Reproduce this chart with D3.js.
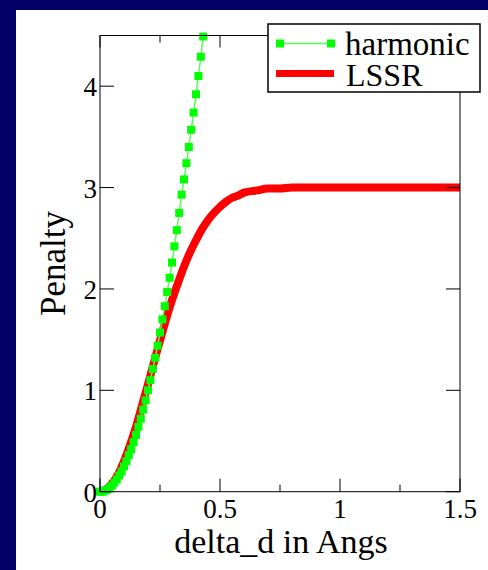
<!DOCTYPE html>
<html><head><meta charset="utf-8">
<script src="https://cdn.jsdelivr.net/npm/d3@7"></script>
<style>html,body{margin:0;padding:0;background:#000066;}svg{display:block;}</style>
</head><body>
<svg id="c" width="488" height="570"></svg>
<script>
// Data
const harmonicX = [0,0.01,0.02,0.03,0.04,0.05,0.06,0.07,0.08,0.09,0.10,0.11,0.12,0.13,0.14,0.15,0.16,0.17,0.18,0.19,0.20,0.21,0.22,0.23,0.24,0.25,0.26,0.27,0.28,0.29,0.30,0.31,0.32,0.33,0.34,0.35,0.36,0.37,0.38,0.39,0.40,0.41,0.42,0.43];
const harmonicY = [0,0.00,0.01,0.02,0.04,0.06,0.09,0.12,0.16,0.20,0.25,0.30,0.36,0.42,0.49,0.56,0.64,0.72,0.81,0.90,1.00,1.10,1.21,1.32,1.44,1.57,1.70,1.83,1.97,2.11,2.26,2.42,2.58,2.75,2.93,3.08,3.24,3.40,3.57,3.74,3.92,4.10,4.29,4.49];
const lssrX = [0,0.025,0.05,0.075,0.1,0.125,0.15,0.175,0.2,0.225,0.25,0.275,0.3,0.325,0.35,0.375,0.4,0.425,0.45,0.475,0.5,0.525,0.55,0.575,0.6,0.65,0.7,0.75,0.8,0.9,1.0,1.25,1.5];
const lssrY = [0,0.02,0.08,0.17,0.30,0.46,0.64,0.85,1.06,1.28,1.49,1.70,1.89,2.06,2.22,2.36,2.48,2.59,2.68,2.75,2.81,2.86,2.90,2.92,2.95,2.97,2.99,2.99,3.00,3.00,3.00,3.00,3.00];
const xTicks = [0, 0.5, 1, 1.5];
const xTickLabels = ["0", "0.5", "1", "1.5"];
const xMinorTicks = [0.25, 0.75, 1.25];
const yTicks = [0, 1, 2, 3, 4];
const yTickLabels = ["0", "1", "2", "3", "4"];
const seriesNames = ["harmonic", "LSSR"];
const xTitle = "delta_d in Angs";
const yTitle = "Penalty";

const svg = d3.select("#c");
svg.append("rect").attr("x",0).attr("y",0).attr("width",488).attr("height",570).attr("fill","#000066");
svg.append("rect").attr("x",16).attr("y",10).attr("width",472).attr("height",560).attr("fill","#ffffff");

const L = 100, R = 460, T = 35.5, B = 491.7;
const x = d3.scaleLinear().domain([0,1.5]).range([L,R]);
const y = d3.scaleLinear().domain([0,4.5]).range([B,T]);

const serif = "'Liberation Serif','Times New Roman',serif";

// LSSR line
const lssr = lssrX.map((v,i)=>[v,lssrY[i]]);
svg.append("path").datum(lssr)
  .attr("d", d3.line().x(d=>x(d[0])).y(d=>y(d[1])).curve(d3.curveMonotoneX))
  .attr("fill","none").attr("stroke","#ff0000").attr("stroke-width",8);

// harmonic line + squares
const harm = harmonicX.map((v,i)=>[v,harmonicY[i]]);
svg.append("path").datum(harm)
  .attr("d", d3.line().x(d=>x(d[0])).y(d=>y(d[1])))
  .attr("fill","none").attr("stroke","#55ff55").attr("stroke-width",1.5);
svg.append("g").selectAll("rect").data(harm).join("rect")
  .attr("x",d=>x(d[0])-4).attr("y",d=>y(d[1])-4)
  .attr("width",8).attr("height",8).attr("fill","#00ff00");

// frame
const fr = svg.append("g").attr("stroke","#000").attr("stroke-width",1).attr("fill","none");
fr.append("rect").attr("x",L).attr("y",T).attr("width",R-L).attr("height",B-T);

// ticks (inward)
const tk = svg.append("g").attr("stroke","#000").attr("stroke-width",1);
xTicks.forEach(v=>{
  tk.append("line").attr("x1",x(v)).attr("x2",x(v)).attr("y1",B).attr("y2",B-13);
  tk.append("line").attr("x1",x(v)).attr("x2",x(v)).attr("y1",T).attr("y2",T+12);
});
xMinorTicks.forEach(v=>{
  tk.append("line").attr("x1",x(v)).attr("x2",x(v)).attr("y1",B).attr("y2",B-7);
  tk.append("line").attr("x1",x(v)).attr("x2",x(v)).attr("y1",T).attr("y2",T+7);
});
yTicks.forEach(v=>{
  tk.append("line").attr("x1",L).attr("x2",L+14).attr("y1",y(v)).attr("y2",y(v));
  tk.append("line").attr("x1",R).attr("x2",R-14).attr("y1",y(v)).attr("y2",y(v));
});

// tick labels
svg.append("g").selectAll("text").data(xTicks).join("text")
  .attr("x",d=>x(d)).attr("y",518).attr("text-anchor","middle")
  .attr("font-family",serif).attr("font-size",27).attr("fill","#000")
  .text((d,i)=>xTickLabels[i]);
svg.append("g").selectAll("text").data(yTicks).join("text")
  .attr("x",97).attr("y",d=>y(d)+10).attr("text-anchor","end")
  .attr("font-family",serif).attr("font-size",27).attr("fill","#000")
  .text((d,i)=>yTickLabels[i]);

// axis titles
svg.append("text").attr("x",(L+R)/2+1).attr("y",553).attr("text-anchor","middle")
  .attr("font-family",serif).attr("font-size",34).attr("fill","#000").text(xTitle);
svg.append("text").attr("transform",`translate(65,${(T+B)/2}) rotate(-90)`).attr("text-anchor","middle")
  .attr("font-family",serif).attr("font-size",35).attr("fill","#000").text(yTitle);

// legend
const lg = svg.append("g");
lg.append("rect").attr("x",268).attr("y",24).attr("width",212).attr("height",68)
  .attr("fill","#fff").attr("stroke","#000").attr("stroke-width",1.5);
lg.append("line").attr("x1",280).attr("x2",331).attr("y1",43.5).attr("y2",43.5)
  .attr("stroke","#55ff55").attr("stroke-width",1.5);
[280,331].forEach(cx=>lg.append("rect").attr("x",cx-4).attr("y",39.5).attr("width",8).attr("height",8).attr("fill","#00ff00"));
lg.append("line").attr("x1",276).attr("x2",334).attr("y1",73.5).attr("y2",73.5)
  .attr("stroke","#ff0000").attr("stroke-width",7);
lg.append("text").attr("x",345).attr("y",55).attr("font-family",serif).attr("font-size",33).attr("fill","#000").text(seriesNames[0]);
lg.append("text").attr("x",346).attr("y",86).attr("font-family",serif).attr("font-size",32).attr("fill","#000").text(seriesNames[1]);
</script>
</body></html>
